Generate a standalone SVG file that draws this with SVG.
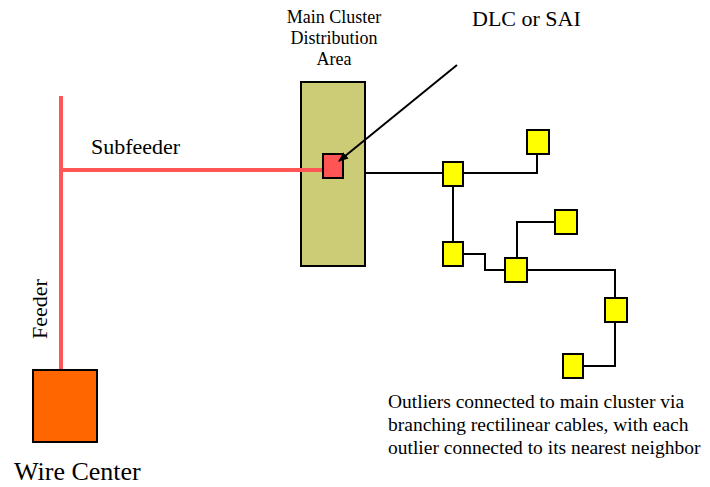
<svg xmlns="http://www.w3.org/2000/svg" width="710" height="487" viewBox="0 0 710 487">
<style>
.t{font-family:'Liberation Serif','Times New Roman',Times,serif;fill:#000}
.red{stroke:#FF5555;stroke-width:4;fill:none}
.cable{stroke:#000;stroke-width:2;fill:none}
.out{fill:#FFFF00;stroke:#000;stroke-width:2}
</style>
<defs>
<marker id="ah" markerWidth="10" markerHeight="10" refX="9" refY="5" orient="auto" markerUnits="userSpaceOnUse">
<path d="M0,1 L10,5 L0,9 z" fill="#000"/>
</marker>
</defs>
<g id="main-cluster">
<rect x="301" y="82" width="64" height="184" fill="#CCCC77" stroke="#000" stroke-width="2"/>
<text class="t" x="334" y="22.5" font-size="18" text-anchor="middle">Main Cluster</text>
<text class="t" x="334" y="44" font-size="18" text-anchor="middle">Distribution</text>
<text class="t" x="334" y="64.5" font-size="18" text-anchor="middle">Area</text>
</g>
<g id="connectors">
<path class="red" d="M61,96 V369"/>
<path class="red" d="M61,170 H323"/>
<path class="cable" d="M365,173 H443"/>
<path class="cable" d="M463,173 H537 V154"/>
<path class="cable" d="M453,186 V242"/>
<path class="cable" d="M463,254 H485 V270 H505"/>
<path class="cable" d="M517,258 V222 H555"/>
<path class="cable" d="M527,270 H615 V298"/>
<path class="cable" d="M615,322 V366 H583"/>
</g>
<g id="dlc">
<rect x="323" y="154" width="20" height="24" fill="#FF5555" stroke="#000" stroke-width="2"/>
<text class="t" x="472" y="26" font-size="22">DLC or SAI</text>
<path d="M457,65 L339,161" stroke="#000" stroke-width="2" fill="none" marker-end="url(#ah)"/>
</g>
<g id="wire-center">
<rect x="33" y="370" width="64" height="72" fill="#FF6600" stroke="#000" stroke-width="2"/>
<text class="t" x="14" y="480" font-size="26">Wire Center</text>
</g>
<g id="labels">
<text class="t" x="91" y="153.5" font-size="22">Subfeeder</text>
<text class="t" transform="translate(47,339) rotate(-90)" font-size="22">Feeder</text>
<text class="t" x="388" y="407.5" font-size="19.5">Outliers connected to main cluster via</text>
<text class="t" x="388" y="430.5" font-size="19.5">branching rectilinear cables, with each</text>
<text class="t" x="388" y="453.5" font-size="19.5">outlier connected to its nearest neighbor</text>
</g>
<g id="o1"><rect class="out" x="443" y="162" width="20" height="24"/></g>
<g id="o2"><rect class="out" x="527" y="130" width="22" height="24"/></g>
<g id="o3"><rect class="out" x="443" y="242" width="20" height="24"/></g>
<g id="o4"><rect class="out" x="505" y="258" width="22" height="24"/></g>
<g id="o5"><rect class="out" x="555" y="210" width="22" height="24"/></g>
<g id="o6"><rect class="out" x="605" y="298" width="22" height="24"/></g>
<g id="o7"><rect class="out" x="563" y="354" width="20" height="24"/></g>
</svg>
